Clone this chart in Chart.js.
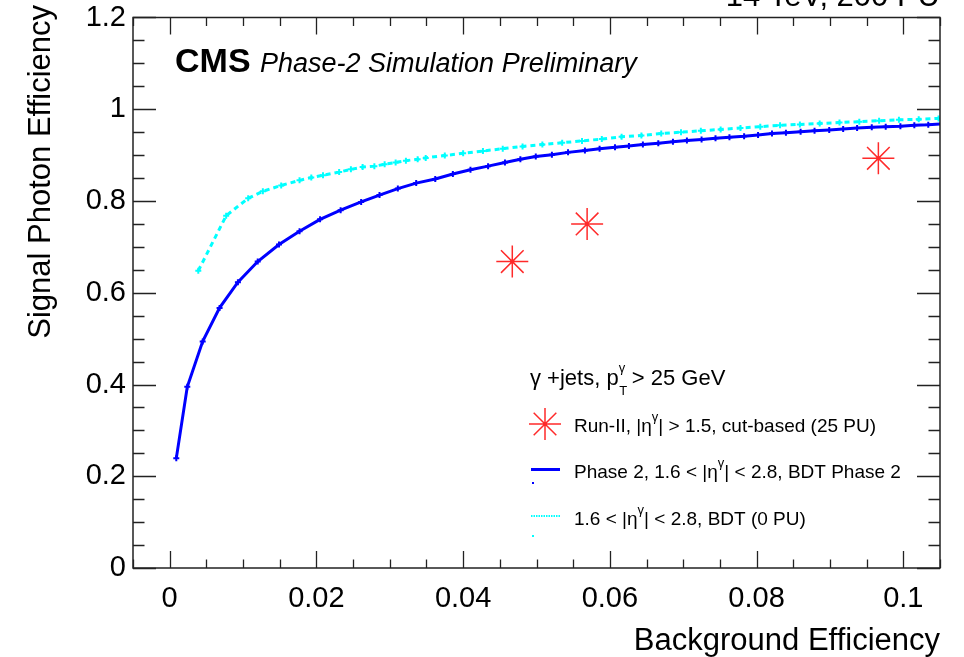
<!DOCTYPE html>
<html>
<head>
<meta charset="utf-8">
<script src="https://cdn.jsdelivr.net/npm/chart.js@4.4.1/dist/chart.umd.min.js"></script>
<style>
  html, body { margin: 0; padding: 0; background: #ffffff; }
  #wrap { width: 964px; height: 657px; }
</style>
</head>
<body>
<div id="wrap"><canvas id="roc" width="964" height="657"></canvas></div>
<script>
// Phase 2 BDT, 1.6 < |eta| < 2.8, 200 PU
const phase2Bkg = [0.0009,0.0024,0.0045,0.0068,0.0093,0.0120,0.0149,0.0177,0.0205,0.0233,0.0261,0.0286,0.0311,0.0336,0.0362,0.0386,0.0410,0.0434,0.0457,0.0478,0.0499,0.0521,0.0543,0.0566,0.0586,0.0607,0.0626,0.0645,0.0666,0.0686,0.0705,0.0725,0.0744,0.0763,0.0783,0.0802,0.0821,0.0840,0.0860,0.0879,0.0899,0.0918,0.0937,0.0957,0.0976,0.0996,0.1015,0.1034,0.1053];
const phase2Sig = [0.239,0.395,0.494,0.567,0.623,0.668,0.705,0.734,0.760,0.780,0.798,0.813,0.827,0.839,0.848,0.859,0.868,0.876,0.884,0.891,0.897,0.901,0.906,0.910,0.914,0.917,0.920,0.923,0.926,0.929,0.932,0.934,0.937,0.939,0.941,0.944,0.947,0.949,0.951,0.953,0.955,0.957,0.959,0.961,0.962,0.963,0.965,0.966,0.968];

// BDT, 1.6 < |eta| < 2.8, 0 PU
const noPuBkg = [0.0039,0.0077,0.0107,0.0127,0.0152,0.0177,0.0193,0.0209,0.0231,0.0247,0.0263,0.0279,0.0293,0.0308,0.0322,0.0338,0.0349,0.0375,0.0400,0.0427,0.0454,0.0481,0.0508,0.0535,0.0562,0.0589,0.0616,0.0643,0.0670,0.0697,0.0724,0.0751,0.0778,0.0805,0.0832,0.0859,0.0886,0.0913,0.0940,0.0967,0.0994,0.1021,0.1048];
const noPuSig = [0.648,0.768,0.806,0.821,0.834,0.845,0.851,0.856,0.863,0.869,0.874,0.876,0.880,0.884,0.888,0.891,0.894,0.899,0.904,0.909,0.914,0.919,0.923,0.927,0.931,0.935,0.940,0.943,0.947,0.950,0.953,0.956,0.959,0.962,0.965,0.967,0.969,0.971,0.973,0.975,0.977,0.978,0.980];

// Run-II cut-based working points, |eta| > 1.5, 25 PU
const runIIBkg = [0.0467, 0.0569, 0.0966];
const runIISig = [0.668, 0.750, 0.893];

// Axis ticks
const xMajorTicks = [0, 0.02, 0.04, 0.06, 0.08, 0.1];
const yMajorTicks = [0, 0.2, 0.4, 0.6, 0.8, 1, 1.2];
const xMinorStep = 0.005;
const yMinorStep = 0.05;

const xTitle = 'Background Efficiency';
const yTitle = 'Signal Photon Efficiency';

const FONT = '"Liberation Sans", Arial, Helvetica, sans-serif';
const BLUE = '#0000ff';
const CYAN = '#00ffff';
const RED = '#ff2a2a';

const toPts = (xs, ys) => xs.map((x, i) => ({ x: x, y: ys[i] }));
const fmt = v => String(parseFloat(Number(v).toFixed(3)));

// Frame with ROOT-style inward ticks on all four sides
const framePlugin = {
  id: 'frame',
  afterDatasetsDraw(chart) {
    const { ctx, chartArea: a, scales: { x, y } } = chart;
    ctx.save();
    ctx.strokeStyle = '#222';
    ctx.lineWidth = 1.5;
    ctx.strokeRect(a.left, a.top, a.right - a.left, a.bottom - a.top);
    ctx.lineWidth = 1.3;
    ctx.beginPath();
    const isMajor = (v, arr) => arr.some(m => Math.abs(m - v) < 1e-9);
    for (let k = Math.ceil(x.min / xMinorStep - 1e-9); k * xMinorStep <= x.max + 1e-9; k++) {
      const v = k * xMinorStep;
      const px = Math.round(x.getPixelForValue(v)) + 0.5;
      const len = isMajor(v, xMajorTicks) ? 17 : 8.5;
      ctx.moveTo(px, a.bottom); ctx.lineTo(px, a.bottom - len);
      ctx.moveTo(px, a.top); ctx.lineTo(px, a.top + len);
    }
    for (let k = Math.ceil(y.min / yMinorStep - 1e-9); k * yMinorStep <= y.max + 1e-9; k++) {
      const v = k * yMinorStep;
      const py = Math.round(y.getPixelForValue(v)) + 0.5;
      const len = isMajor(v, yMajorTicks) ? 23 : 11.5;
      ctx.moveTo(a.left, py); ctx.lineTo(a.left + len, py);
      ctx.moveTo(a.right, py); ctx.lineTo(a.right - len, py);
    }
    ctx.stroke();
    ctx.restore();
  }
};

// Titles, CMS label and legend box
const annotPlugin = {
  id: 'annot',
  afterDraw(chart) {
    const { ctx, chartArea: a } = chart;
    ctx.save();
    ctx.fillStyle = '#000';

    // axis titles
    ctx.font = '31px ' + FONT;
    ctx.textAlign = 'right';
    ctx.textBaseline = 'alphabetic';
    ctx.fillText(xTitle, a.right, 650);
    ctx.save();
    ctx.translate(50, 5);
    ctx.rotate(-Math.PI / 2);
    ctx.fillText(yTitle, 0, 0);
    ctx.restore();

    // energy / pileup label at the top edge
    ctx.font = '31px ' + FONT;
    ctx.fillText('14 TeV, 200 PU', a.right, 6);

    // CMS label
    ctx.textAlign = 'left';
    ctx.font = 'bold 34px ' + FONT;
    ctx.fillText('CMS', 175, 72);
    ctx.font = 'italic 27px ' + FONT;
    ctx.fillText('Phase-2 Simulation Preliminary', 260, 72);

    // legend header: gamma+jets, pT^gamma > 25 GeV
    ctx.font = '22px ' + FONT;
    let lx = 530;
    const ly = 385;
    ctx.fillText('\u03b3 +jets, p', lx, ly);
    lx += ctx.measureText('\u03b3 +jets, p').width;
    ctx.font = '13px ' + FONT;
    ctx.fillText('\u03b3', lx, ly - 13);
    ctx.fillText('T', lx + 0.5, ly + 10);
    ctx.font = '22px ' + FONT;
    ctx.fillText(' > 25 GeV', lx + 7, ly);

    // legend entries: text with |eta^gamma|
    const entry = (parts, x0, yb) => {
      let cx = x0;
      for (const p of parts) {
        if (p.sup) {
          ctx.font = '13px ' + FONT;
          ctx.fillText(p.t, cx, yb - 11);
        } else {
          ctx.font = '19px ' + FONT;
          ctx.fillText(p.t, cx, yb);
        }
        cx += ctx.measureText(p.t).width;
      }
    };
    entry([{ t: 'Run-II, |\u03b7' }, { t: '\u03b3', sup: true }, { t: '| > 1.5, cut-based (25 PU)' }], 574, 432);
    entry([{ t: 'Phase 2, 1.6 < |\u03b7' }, { t: '\u03b3', sup: true }, { t: '| < 2.8, BDT Phase 2' }], 574, 478);
    entry([{ t: '1.6 < |\u03b7' }, { t: '\u03b3', sup: true }, { t: '| < 2.8, BDT (0 PU)' }], 574, 525);

    // legend markers
    ctx.strokeStyle = RED;
    ctx.lineWidth = 1.5;
    Chart.helpers.drawPoint(ctx, { pointStyle: 'star', radius: 16, borderWidth: 1.5 }, 545, 424);
    ctx.fillStyle = RED;
    ctx.fillRect(543, 422, 4, 4);

    ctx.strokeStyle = BLUE;
    ctx.lineWidth = 3;
    ctx.beginPath(); ctx.moveTo(531, 469.5); ctx.lineTo(560, 469.5); ctx.stroke();
    ctx.fillStyle = BLUE;
    ctx.fillRect(532, 482, 2, 2);

    ctx.strokeStyle = CYAN;
    ctx.lineWidth = 2;
    ctx.setLineDash([1.5, 1]);
    ctx.beginPath(); ctx.moveTo(531, 516); ctx.lineTo(560, 516); ctx.stroke();
    ctx.setLineDash([]);
    ctx.fillStyle = CYAN;
    ctx.fillRect(532, 535, 2, 2);
    ctx.restore();
  }
};

new Chart(document.getElementById('roc'), {
  type: 'scatter',
  data: {
    datasets: [
      {
        label: '1.6 < |\u03b7\u03b3| < 2.8, BDT (0 PU)',
        data: toPts(noPuBkg, noPuSig),
        showLine: true,
        borderColor: CYAN,
        backgroundColor: CYAN,
        borderWidth: 3,
        borderDash: [5, 4],
        pointStyle: 'cross',
        pointRadius: 3,
        pointBorderWidth: 2,
        tension: 0
      },
      {
        label: 'Phase 2, 1.6 < |\u03b7\u03b3| < 2.8, BDT Phase 2',
        data: toPts(phase2Bkg, phase2Sig),
        showLine: true,
        borderColor: BLUE,
        backgroundColor: BLUE,
        borderWidth: 3,
        pointStyle: 'cross',
        pointRadius: 3,
        pointBorderWidth: 2,
        tension: 0
      },
      {
        label: 'Run-II, |\u03b7\u03b3| > 1.5, cut-based (25 PU)',
        data: toPts(runIIBkg, runIISig),
        showLine: false,
        borderColor: RED,
        backgroundColor: RED,
        pointStyle: 'star',
        pointRadius: 16,
        pointBorderWidth: 1.5
      },
      {
        label: 'Run-II centres',
        data: toPts(runIIBkg, runIISig),
        showLine: false,
        borderColor: RED,
        backgroundColor: RED,
        pointStyle: 'rect',
        pointRadius: 2.5,
        pointBorderWidth: 0
      }
    ]
  },
  options: {
    responsive: false,
    devicePixelRatio: 1,
    animation: false,
    layout: { padding: { top: 13, right: 24, bottom: 0, left: 0 } },
    plugins: { legend: { display: false }, tooltip: { enabled: false } },
    scales: {
      x: {
        type: 'linear',
        min: -0.005,
        max: 0.105,
        grid: { display: false, drawTicks: false },
        border: { display: false },
        afterBuildTicks: s => { s.ticks = xMajorTicks.map(v => ({ value: v })); },
        afterFit: s => { s.height = 89; s.paddingLeft = 0; s.paddingRight = 0; },
        ticks: {
          padding: 14,
          color: '#000',
          font: { family: FONT, size: 29 },
          maxRotation: 0,
          autoSkip: false,
          callback: v => fmt(v)
        }
      },
      y: {
        type: 'linear',
        min: 0,
        max: 1.2,
        grid: { display: false, drawTicks: false },
        border: { display: false },
        afterBuildTicks: s => { s.ticks = yMajorTicks.map(v => ({ value: v })); },
        afterFit: s => { s.width = 133; s.paddingTop = 0; s.paddingBottom = 0; },
        ticks: {
          padding: 7,
          color: '#000',
          font: { family: FONT, size: 29 },
          autoSkip: false,
          callback: v => fmt(v)
        }
      }
    }
  },
  plugins: [framePlugin, annotPlugin]
});
</script>
</body>
</html>
